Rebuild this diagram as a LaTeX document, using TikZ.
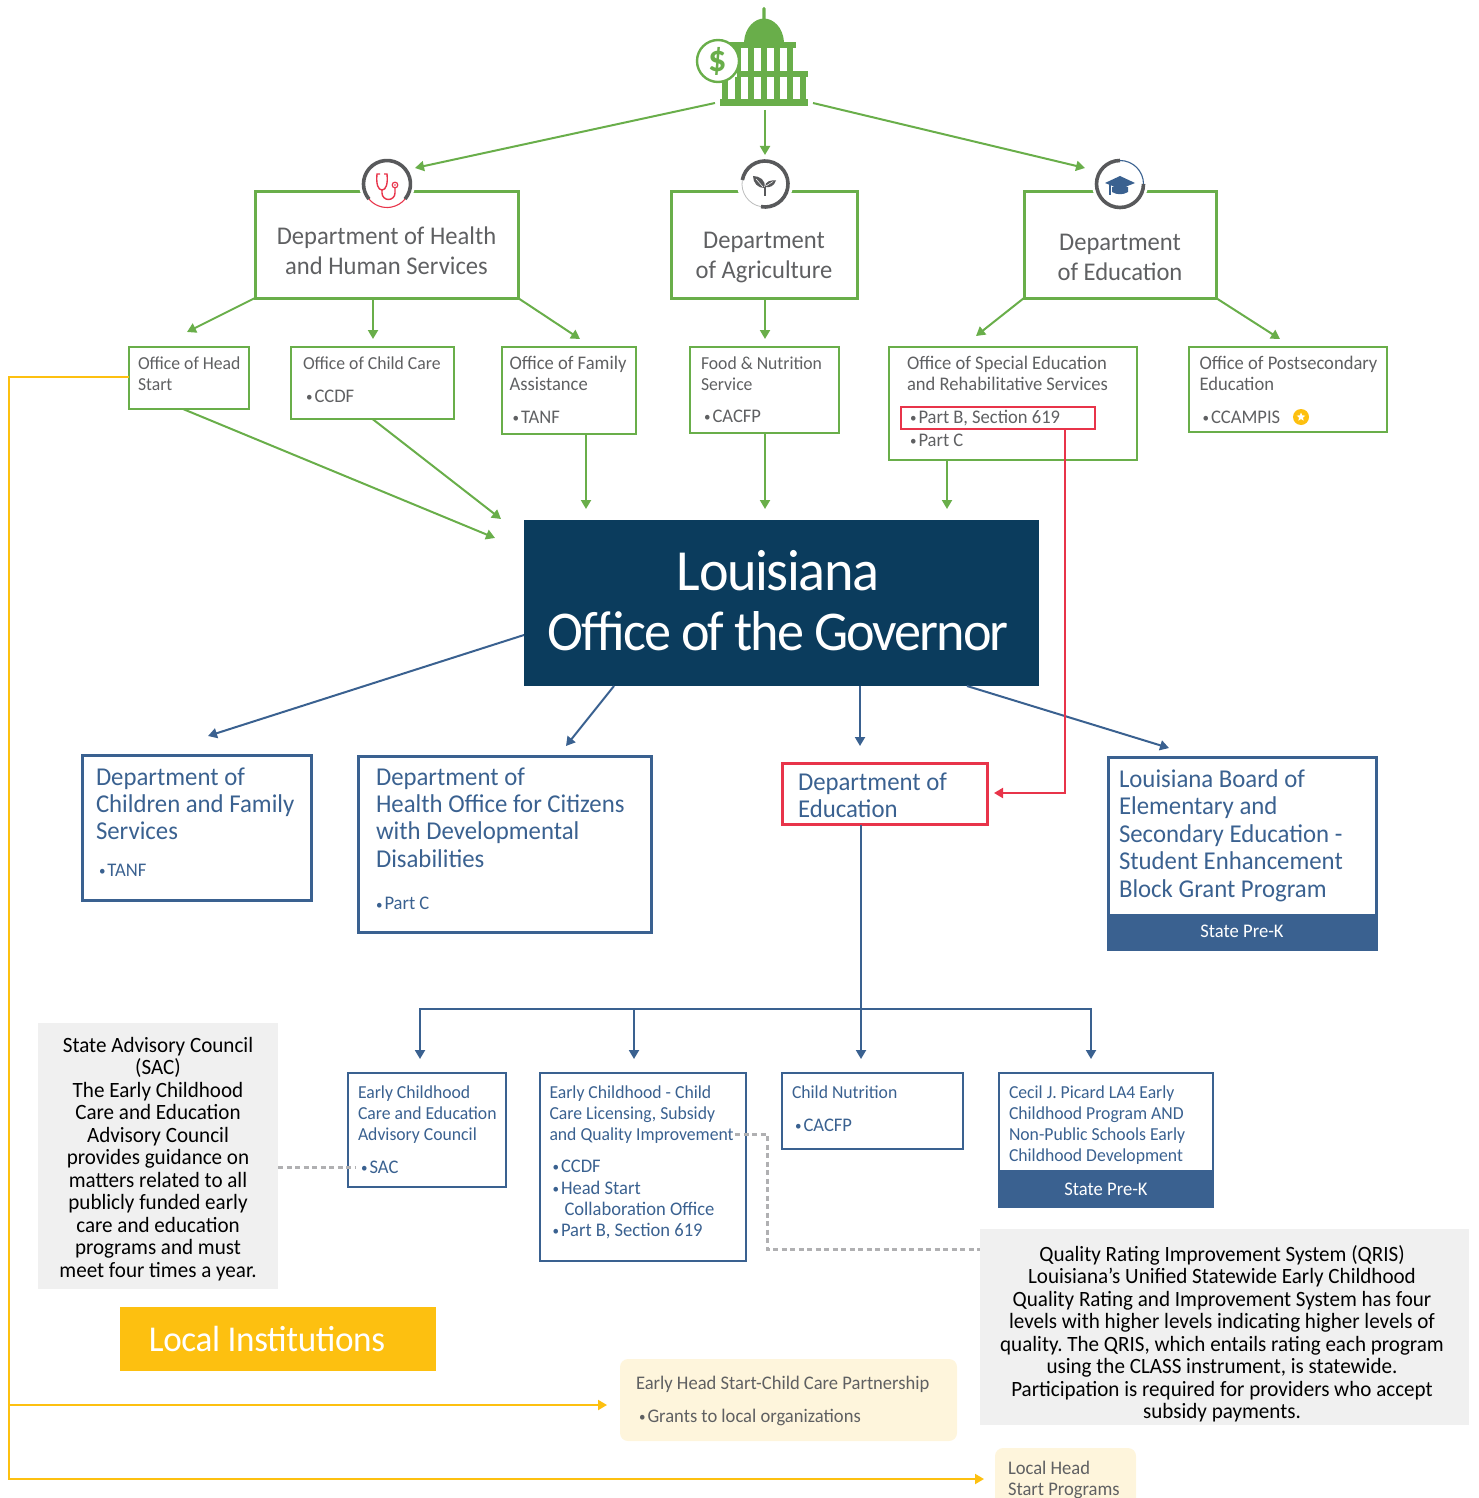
\documentclass[tikz,border=0pt]{standalone}
\usepackage{fontspec}
\setmainfont[Scale=1.04,FakeStretch=0.965]{Carlito}
\usetikzlibrary{arrows.meta,shapes.geometric}
\definecolor{gr}{HTML}{69AE4A}
\definecolor{bl}{HTML}{3A6190}
\definecolor{navy}{HTML}{0B3C5D}
\definecolor{rd}{HTML}{E8344A}
\definecolor{gold}{HTML}{FDC010}
\definecolor{txt}{HTML}{5F6062}
\definecolor{cream}{HTML}{FEF5DC}
\definecolor{grayb}{HTML}{F0F0F0}
\definecolor{dashgray}{HTML}{B0B0B2}
\definecolor{ring}{HTML}{58595B}
\frenchspacing
\newcommand\fnt[2]{\fontsize{#1}{#2}\selectfont}
% name, style, x0,y0,x1,y1, first baseline, left pad, text
\newcommand\bx[9]{\node[#2,inner sep=0pt,outer sep=0pt,anchor=north west] (#1) at (#3,#4) {\vbox to \dimexpr#6pt-#4pt\relax{\hsize=\dimexpr#5pt-#3pt\relax
  \raggedright\leftskip=#8pt\parfillskip=0pt plus 1fil\relax\frenchspacing
  \vskip\dimexpr#7pt-#4pt-\baselineskip\relax\prevdepth=0pt\relax #9\par\vss}};}
\newcommand\bul{{\fnt{13}{13}\raisebox{0.6pt}{•}}\kern2pt}
\newcommand\ttl{\fnt{17.6}{21}}
\newcommand\itm{\fnt{18.5}{21}}
\tikzset{
 x=1pt,y=-1pt,
 garrow/.style={draw=gr,line width=2pt,-{Triangle[length=9pt,width=10pt]}},
 barrow/.style={draw=bl,line width=2pt,-{Triangle[length=9pt,width=10pt]}},
 rarrow/.style={draw=rd,line width=2pt,-{Triangle[length=9pt,width=10pt]}},
 yarrow/.style={draw=gold,line width=2pt,-{Triangle[length=9pt,width=10pt]}},
 dashline/.style={draw=dashgray,line width=3pt,dash pattern=on 5pt off 3.5pt},
 topbox/.style={draw=gr,line width=3pt,text=txt,font=\fnt{24.5}{30}},
 office/.style={draw=gr,line width=2.2pt,text=txt,font=\fnt{18.5}{21}},
 bluebox/.style={draw=bl,line width=3pt,text=bl,font=\fnt{24.7}{27.4}},
 lowbox/.style={draw=bl,line width=2.2pt,text=bl,font=\fnt{18.5}{21}},
 band/.style={fill=bl,text=white,inner sep=0pt,font=\fnt{18.5}{21}},
 graybox/.style={fill=grayb,text=black,font=\fnt{21}{22.5}},
 creambox/.style={fill=cream,rounded corners=8pt,text=txt,font=\fnt{18.5}{21}},
 iconring/.style={circle,fill=white,minimum size=56pt,inner sep=0pt},
}
\begin{document}
\begin{tikzpicture}
\useasboundingbox (0,0) rectangle (1478,1498);
\clip (0,0) rectangle (1478,1498);

% ---- capitol
\begin{scope}
\fill[gr] (762.3,20) -- (762.3,8.5) arc[start angle=180,end angle=0,radius=1.7pt] -- (765.7,20) -- cycle;
\fill[gr] (744,42) .. controls (745,27) and (755,18.5) .. (764,18.5) .. controls (773,18.5) and (783,27) .. (784,42) -- cycle;
\fill[gr] (730,42) rectangle (796,48);
\foreach \c in {735,748,761,774,787} {\fill[gr] (\c,48) rectangle (\c+6,71);}
\fill[gr] (737,71) rectangle (808,77);
\foreach \c in {722,735,748,761,774,787,800} {\fill[gr] (\c,77) rectangle (\c+6,100);}
\fill[gr] (720,99) rectangle (808,106);
\node[circle,draw=gr,line width=2.4pt,fill=white,minimum size=42pt,inner sep=0pt,text=gr,font=\fnt{36}{36}\bfseries] (dollar) at (718,61) {\$};
\end{scope}

% ---- top departments
\bx{hhs}{topbox}{255}{192}{518}{298}{244}{0}{\centering Department of Health\\and Human Services}
\bx{agri}{topbox}{671}{192}{857}{298}{248}{0}{\centering Department\\of Agriculture}
\bx{edu}{topbox}{1024}{192}{1216}{298}{250}{0}{\centering Department\\of Education}

\node[iconring] (ihhs) at (387,184) {};
\node[iconring] (iagri) at (765,184) {};
\node[iconring] (iedu) at (1120,184) {};

% stethoscope icon
\begin{scope}[shift={(387,184)},x=1pt,y=1pt]
\draw[ring,line width=3.6pt] (-40:23.5) arc[start angle=-40,end angle=220,radius=23.5pt];
\draw[rd,line width=1.1pt] (220:23.5) arc[start angle=220,end angle=320,radius=23.5pt];
\draw[rd,line width=1.4pt] (-7,10) -- (-10,10) .. controls (-11,0) and (-9,-6) .. (-5,-6) .. controls (-1,-6) and (1,0) .. (0,10) -- (-3,10);
\draw[rd,line width=1.4pt] (-5,-6) -- (-5,-9) arc[start angle=180,end angle=360,radius=6.5pt] -- (8,-4);
\draw[rd,line width=1.2pt] (8,-1) circle[radius=2.8pt];
\fill[rd] (8,-1) circle[radius=0.9pt];
\end{scope}
% leaf icon
\begin{scope}[shift={(765,184)},x=1pt,y=1pt]
\draw[ring,line width=3.6pt] (170:23) arc[start angle=170,end angle=-100,radius=23pt];
\draw[ring!40,line width=.8pt] (170:23) arc[start angle=170,end angle=260,radius=23pt];
\draw[ring,line width=1.6pt] (0,-12) -- (0,-3);
\fill[ring] (-1,-4) .. controls (2,4) and (-6,8) .. (-12,8) .. controls (-12,1) and (-7,-4) .. (-1,-4) -- cycle;
\fill[ring] (0,-3) .. controls (0,3) and (6,4) .. (11,3.5) .. controls (9,-2) and (5,-4) .. (0,-3) -- cycle;
\draw[white,line width=.5pt] (-2,-3) -- (-9,5);
\draw[white,line width=.5pt] (1,-2) -- (8,2.5);
\end{scope}
% mortarboard icon
\begin{scope}[shift={(1120,184)},x=1pt,y=1pt]
\draw[ring,line width=3.6pt] (0:23.5) arc[start angle=0,end angle=-270,radius=23.5pt];
\draw[bl,line width=1.1pt] (0:23.5) arc[start angle=0,end angle=90,radius=23.5pt];
\fill[bl] (-15,1) -- (0,8) -- (15,1) -- (0,-5) -- cycle;
\fill[bl] (-8,-3.2) -- (0,0) -- (8,-3.2) -- (8,-8) .. controls (3,-11) and (-3,-11) .. (-8,-8) -- cycle;
\fill[bl] (-11,0) rectangle (-9.5,-11);
\end{scope}

% ---- offices
\bx{ohs}{office}{129}{347}{249}{409}{369}{9}{\ttl Office of Head\\Start}
\bx{occ}{office}{291}{347}{454}{419}{369}{12}{\ttl Office of Child Care\\[12pt]\itm\hspace*{3pt}\bul CCDF}
\bx{ofa}{office}{502}{347}{636}{434}{369}{7.5}{Office of Family\\Assistance\\[12pt]\hspace*{3pt}\bul TANF}
\bx{fns}{office}{690}{347}{839}{433}{369}{11}{\ttl Food \& Nutrition\\Service\\[11pt]\itm\hspace*{3pt}\bul CACFP}
\bx{osers}{office}{889}{347}{1137}{460}{369}{18}{Office of Special Education\\and Rehabilitative Services\\[12pt]\hspace*{3pt}\bul Part B, Section 619\\[2pt]\hspace*{3pt}\bul Part C}
\bx{ope}{office}{1189}{347}{1387}{432}{369}{10.5}{Office of Postsecondary\\Education\\[12pt]\hspace*{3pt}\bul CCAMPIS}
\node[draw=rd,line width=2.2pt,minimum width=194pt,minimum height=22pt,inner sep=0pt] (partb) at (998,418) {};
\node[circle,fill=gold,minimum size=16pt,inner sep=0pt] (stardot) at (1301,417) {};
\node[star,star points=5,star point ratio=2.2,fill=white,minimum size=9pt,inner sep=0pt] (starw) at (1301,417) {};

% ---- governor
\node[fill=navy,text=white,minimum width=515pt,minimum height=166pt,inner sep=0pt,align=center,font=\fnt{54}{60}] (gov) at (781.5,603) {\hspace*{-7pt}\raisebox{5.5pt}{\fnt{56}{60}\addfontfeatures{LetterSpace=-2.5}Louisiana}\\\hspace*{-7pt}\raisebox{5.5pt}{\addfontfeatures{LetterSpace=-3.6}Office of the Governor}};

% ---- second tier
\bx{dcfs}{bluebox}{82}{755}{311}{900}{785}{14}{Department of\\Children and Family\\Services\\[9pt]{\itm\hspace*{3pt}\bul TANF}}
\bx{opcd}{bluebox}{358}{756}{651}{932}{785}{18}{Department of\\Health Office for Citizens\\with Developmental\\Disabilities\\[15pt]{\itm\bul Part C}}
\bx{doe}{draw=rd,line width=3.4pt,text=bl,font=\fnt{24.7}{27.4}}{782.5}{763.5}{987.5}{824.5}{790}{15.5}{Department of\\Education}
\bx{bese}{bluebox}{1108}{757}{1376}{949}{787.5}{11}{Louisiana Board of\\Elementary and\\Secondary Education -\\Student Enhancement\\Block Grant Program}
\node[band,minimum width=270pt,minimum height=36pt] (besek) at (1242,932) {\raisebox{1.5pt}{State Pre-K}};

% ---- third tier
\bx{eccac}{lowbox}{348}{1073}{506}{1187}{1098}{10}{\ttl Early Childhood\\Care and Education\\Advisory Council\\[12pt]\itm\hspace*{3pt}\bul SAC}
\bx{ecc}{lowbox}{540}{1073}{746}{1261}{1098}{9.5}{\ttl Early Childhood - Child\\Care Licensing, Subsidy\\and Quality Improvement\\[11pt]\itm\hspace*{3pt}\bul CCDF\\[1pt]\hspace*{3pt}\bul Head Start\\\hspace*{15pt}Collaboration Office\\\hspace*{3pt}\bul Part B, Section 619}
\bx{cn}{lowbox}{782}{1073}{963}{1149}{1098}{10}{\ttl Child Nutrition\\[12pt]\itm\hspace*{3pt}\bul CACFP}
\bx{la4}{lowbox}{999}{1073}{1213}{1207}{1098}{10}{\ttl Cecil J. Picard LA4 Early\\Childhood Program AND\\Non-Public Schools Early\\Childhood Development}
\node[band,minimum width=216pt,minimum height=38pt] (la4k) at (1106,1189) {State Pre-K};

% ---- gray, gold and cream
\bx{sac}{graybox}{38}{1023}{278}{1289}{1052}{0}{\centering State Advisory Council\\(SAC)\\The Early Childhood\\Care and Education\\Advisory Council\\provides guidance on\\matters related to all\\publicly funded early\\care and education\\programs and must\\meet four times a year.}
\bx{qris}{graybox}{980}{1229}{1469}{1425}{1261}{0}{\centering\rightskip=5pt plus 1fil\relax Quality Rating Improvement System (QRIS)\\Louisiana's Unified Statewide Early Childhood\\Quality Rating and Improvement System has four\\levels with higher levels indicating higher levels of\\quality. The QRIS, which entails rating each program\\using the CLASS instrument, is statewide.\\Participation is required for providers who accept\\subsidy payments.}
\node[fill=gold,text=white,minimum width=316pt,minimum height=64pt,inner sep=0pt,font=\fnt{35}{40}\addfontfeatures{LetterSpace=-1}] (local) at (278,1339) {\hspace*{-22pt}Local Institutions};
\bx{ehs}{creambox}{620}{1359}{957}{1441}{1389}{16}{Early Head Start-Child Care Partnership\\[12pt]\hspace*{3pt}\bul Grants to local organizations}
\bx{lhs}{creambox}{995}{1448}{1136}{1520}{1474}{13}{Local Head\\Start Programs}

% ---- coordinates for free ends
\coordinate (capL) at (715,103);
\coordinate (capC) at (765,110);
\coordinate (capR) at (813,103);
\coordinate (tHHS) at (415,168);
\coordinate (tAG) at (765,155);
\coordinate (tED) at (1085,168);
\coordinate (tOHS) at (187,332);
\coordinate (tOCC) at (373,339);
\coordinate (tOFA) at (580,339);
\coordinate (tFNS) at (765,339);
\coordinate (tOSE) at (976,336);
\coordinate (tOPE) at (1280,339);
\coordinate (sOHS) at (183,409);
\coordinate (gOHS) at (495,538);
\coordinate (gOCC) at (501,519);
\coordinate (gOFA) at (586,509);
\coordinate (gFNS) at (765,509);
\coordinate (gOSE) at (947,509);
\coordinate (sDCFS) at (524,635);
\coordinate (tDCFS) at (208,736);
\coordinate (sOPCD) at (614,686);
\coordinate (tOPCD) at (566,746);
\coordinate (tDOE) at (860,746);
\coordinate (sBESE) at (967,686);
\coordinate (tBESE) at (1169,748);
\coordinate (rTurn) at (1065,793);
\coordinate (rEnd) at (994,793);
\coordinate (busY) at (861,1009);
\coordinate (tECCAC) at (420,1059);
\coordinate (tECC) at (634,1059);
\coordinate (tCN) at (861,1059);
\coordinate (tLA4) at (1091,1059);
\coordinate (sacEnd) at (355,1167);
\coordinate (qA) at (735,1134);
\coordinate (qB) at (767,1134);
\coordinate (qC) at (767,1249);
\coordinate (yC) at (9,377);
\coordinate (yM) at (9,1405);
\coordinate (yEHS) at (607,1405);
\coordinate (yB) at (9,1479);
\coordinate (yLHS) at (984,1479);

% ---- green connectors
\draw[garrow] (capL) -- (tHHS);
\draw[garrow] (capC) -- (tAG);
\draw[garrow] (capR) -- (tED);
\draw[garrow] (hhs.south west) -- (tOHS);
\draw[garrow] (hhs.south -| tOCC) -- (tOCC);
\draw[garrow] (hhs.south east) -- (tOFA);
\draw[garrow] (agri.south -| tFNS) -- (tFNS);
\draw[garrow] (edu.south west) -- (tOSE);
\draw[garrow] (edu.south east) -- (tOPE);
\draw[garrow] (sOHS) -- (gOHS);
\draw[garrow] (occ.south) -- (gOCC);
\draw[garrow] (ofa.south -| gOFA) -- (gOFA);
\draw[garrow] (fns.south -| gFNS) -- (gFNS);
\draw[garrow] (osers.south -| gOSE) -- (gOSE);

% ---- blue connectors
\draw[barrow] (sDCFS) -- (tDCFS);
\draw[barrow] (sOPCD) -- (tOPCD);
\draw[barrow] (gov.south -| tDOE) -- (tDOE);
\draw[barrow] (sBESE) -- (tBESE);
\draw[barrow] (doe.south -| tCN) -- (tCN);
\draw[barrow] (busY) -| (tECCAC);
\draw[barrow] (busY -| tECC) -- (tECC);
\draw[barrow] (busY) -| (tLA4);

% ---- red connector
\draw[rarrow] (partb.south -| rTurn) -- (rTurn) -- (rEnd);

% ---- dashed
\draw[dashline] (sac.east |- sacEnd) -- (sacEnd);
\draw[dashline] (qA) -- (qB) -- (qC) -- (qC -| qris.west);

% ---- yellow
\draw[yarrow] (ohs.west |- yC) -- (yC) -- (yB) -- (yLHS);
\draw[yarrow] (yM) -- (yEHS);
\end{tikzpicture}
\end{document}
